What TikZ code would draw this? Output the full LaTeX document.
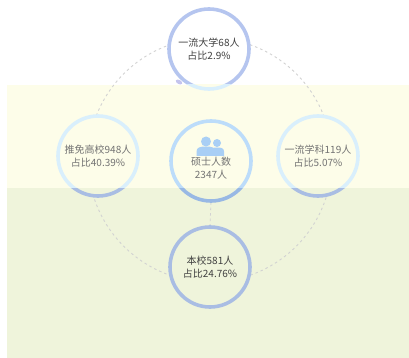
\documentclass[tikz,border=0pt]{standalone}
\usepackage{fontspec}
\setmainfont{Noto Sans CJK SC}
\begin{document}
\begin{tikzpicture}[x=1pt,y=-1pt,
  sat/.style={circle,minimum size=82pt,inner sep=0pt,align=center,font=\fontsize{10}{13.5}\selectfont},
  ring/.style={line width=3.6pt},
  dashline/.style={draw=gray!35,line width=0.9pt,dash pattern=on 2.5pt off 3pt}]
\definecolor{bgY}{HTML}{FDFDE9}
\definecolor{bgG}{HTML}{EFF4DB}
\definecolor{rW}{HTML}{B5C5EF}
\definecolor{rYlt}{HTML}{D9EFFC}
\definecolor{rYc}{HTML}{BCDCFA}
\definecolor{rG}{HTML}{A9BDE3}
\definecolor{rGc}{HTML}{98B8E4}
\definecolor{icon}{HTML}{A9CFF5}
\useasboundingbox (0,0) rectangle (409,358);
\fill[white] (0,0) rectangle (409,358);
\fill[bgY] (7,85) rectangle (409,188);
\fill[bgG] (7,188) rectangle (409,358);
% nodes (text holders)
\node[sat,text=black!75] (top) at (209,49) {一流大学68人\\占比2.9\%};
\node[sat,text=black!55] (left) at (98,156) {推免高校948人\\占比40.39\%};
\node[sat,text=black!55] (right) at (318,156) {一流学科119人\\占比5.07\%};
\node[sat,text=black!55] (ctr) at (211,161) {};
\node[sat,text=black!75] (bot) at (210,267) {本校581人\\占比24.76\%};
% dashed orbit and link
\draw[dashline] (210,160) circle (122pt);
\draw[dashline] (ctr.south) -- (bot.north);
% rings, region by region
\begin{scope}
  \clip (0,0) rectangle (409,85);
  \draw[ring,draw=rW,fill=white] (top.center) circle (40pt);
\end{scope}
\begin{scope}
  \clip (0,85) rectangle (409,188);
  \draw[ring,draw=rYlt,fill=bgY] (top.center) circle (40pt);
  \draw[ring,draw=rYlt,fill=bgY] (left.center) circle (40pt);
  \draw[ring,draw=rYlt,fill=bgY] (right.center) circle (40pt);
  \draw[ring,draw=rYc,fill=bgY] (ctr.center) circle (40pt);
\end{scope}
\begin{scope}
  \clip (0,188) rectangle (409,358);
  \draw[ring,draw=rG,fill=bgG] (left.center) circle (40pt);
  \draw[ring,draw=rG,fill=bgG] (right.center) circle (40pt);
  \draw[ring,draw=rGc,fill=bgG] (ctr.center) circle (40pt);
  \draw[ring,draw=rG,fill=bgG] (bot.center) circle (40pt);
\end{scope}
% small blob near top circle
\fill[gray!45!blue!30] (179,82) ellipse [x radius=3.5pt,y radius=2pt,rotate=-30];
% texts again on top of fills
\node[sat,text=black!75] at (top.center) {一流大学68人\\占比2.9\%};
\node[sat,text=black!55] at (left.center) {推免高校948人\\占比40.39\%};
\node[sat,text=black!55] at (right.center) {一流学科119人\\占比5.07\%};
\node[sat,text=black!75] at (bot.center) {本校581人\\占比24.76\%};
\node[font=\fontsize{10}{13}\selectfont,text=black!55,align=center] (ctrtxt) at (211,168) {硕士人数\\2347人};
% people icon
\fill[icon] (217,143) circle (4pt);
\fill[icon] (210.5,156) -- (210.5,151) .. controls (210.5,148) and (213,147.5) .. (217,147.5) .. controls (221,147.5) and (224,148) .. (224,151.5) -- (224,156) -- cycle;
\fill[icon] (206,141.5) circle (5pt);
\fill[icon] (196.5,156) -- (196.5,151.5) .. controls (196.5,147.5) and (200,146.5) .. (206,146.5) .. controls (212,146.5) and (215,147.5) .. (215,151.5) -- (215,156) -- cycle;
\end{tikzpicture}
\end{document}
